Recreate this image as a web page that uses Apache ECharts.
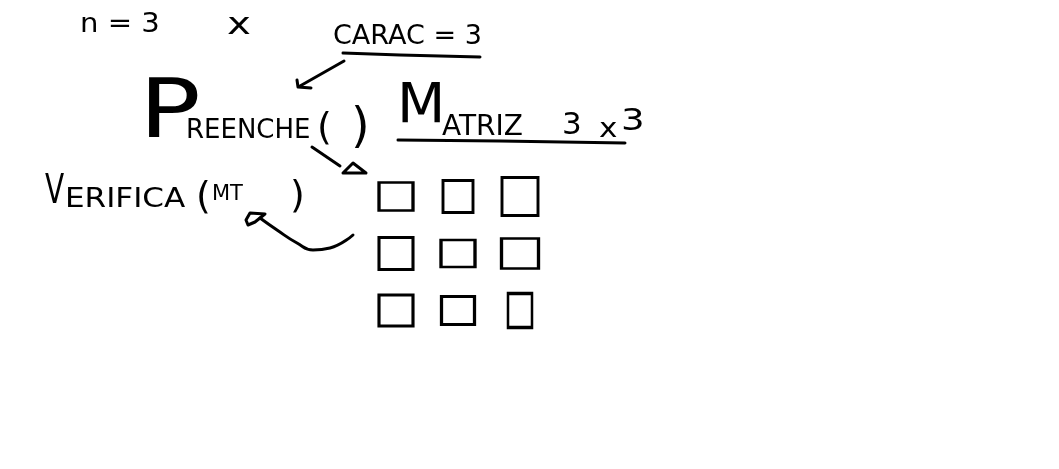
<!DOCTYPE html>
<html>
<head>
<meta charset="utf-8">
<title>Matriz 3x3</title>
<script src="https://cdn.jsdelivr.net/npm/echarts@6/dist/echarts.min.js"></script>
<style>
  html, body { margin: 0; padding: 0; background: #fff; }
  #main { width: 1059px; height: 469px; }
</style>
</head>
<body>
<div id="main"></div>
<script>
// matrix 3 x 3
const cols = ['0', '1', '2'];
const rows = ['0', '1', '2'];
const cells = [
  [0, 0], [1, 0], [2, 0],
  [0, 1], [1, 1], [2, 1],
  [0, 2], [1, 2], [2, 2]
];
// sketch strokes (drawing space 1059 x 469)
const strokes = {
  caracUnder: [[343, 53], [400, 55], [480, 57]],
  caracArrow: [[344, 61], [300, 86]],
  caracHead: [[297, 80], [298, 87], [311, 88]],
  matrizUnder: [[398, 140], [500, 141], [625, 143]],
  preencheLine: [[312, 147], [340, 166]],
  preencheHead: [[343, 173], [353, 163], [366, 173], [343, 173]],
  hook: [[265, 214], [250, 213], [246, 220], [248, 225], [255, 222], [265, 214]],
  verificaCurve: [[260, 218], [277, 230], [297, 243], [313, 250], [330, 248], [353, 235]]
};
const labels = ['n = 3', 'x', 'CARAC = 3', 'P', 'REENCHE', '(', ')', 'M', 'ATRIZ', '3', 'x', '3', 'V', 'ERIFICA', '(', 'MT', ')'];

const cellSize = [[34, 28], [30, 32], [36, 38], [34, 32], [34, 27], [37, 30], [34, 31], [33, 28], [24, 34]];

const chart = echarts.init(document.getElementById('main'));

const strokeSeries = Object.keys(strokes).map(function (k) {
  return {
    name: k,
    type: 'line',
    xAxisIndex: 0,
    yAxisIndex: 0,
    data: strokes[k],
    showSymbol: false,
    symbol: 'none',
    smooth: k === 'verificaCurve',
    lineStyle: { color: '#000', width: 3, cap: 'round', join: 'round' },
    silent: true,
    animation: false
  };
});

const font = '"DejaVu Sans", sans-serif';
function txt(i, x, y, size, sx) {
  return {
    type: 'text',
    x: x,
    y: y,
    scaleX: sx || 1,
    style: { text: labels[i], fill: '#000', font: size + 'px ' + font }
  };
}

chart.setOption({
  animation: false,
  grid: [
    { left: 0, right: 0, top: 0, bottom: 0 },
    { left: 365, width: 186, top: 168, height: 171 }
  ],
  xAxis: [
    { type: 'value', min: 0, max: 1059, show: false },
    { type: 'category', data: cols, gridIndex: 1, show: false }
  ],
  yAxis: [
    { type: 'value', min: 0, max: 469, inverse: true, show: false },
    { type: 'category', data: rows, gridIndex: 1, inverse: true, show: false }
  ],
  series: strokeSeries.concat([{
    name: 'matriz',
    type: 'scatter',
    xAxisIndex: 1,
    yAxisIndex: 1,
    data: cells.map(function (c, i) {
      return { value: c, symbolSize: cellSize[i] };
    }),
    symbol: 'rect',
    itemStyle: { color: '#fff', borderColor: '#000', borderWidth: 3, opacity: 1 },
    silent: true
  }]),
  graphic: [
    txt(0, 80, 12, 26, 1.12),
    txt(1, 227, 11, 30, 1.35),
    txt(2, 333, 23, 27),
    txt(3, 139, 75, 82, 1.25),
    txt(4, 186, 118, 26),
    txt(5, 317, 110, 38),
    txt(6, 351, 106, 48),
    txt(7, 397, 79, 56),
    txt(8, 442, 114, 28),
    txt(9, 562, 110, 31),
    txt(10, 599, 117, 26, 1.2),
    txt(11, 621, 106, 31, 1.2),
    txt(12, 45, 173, 40, 0.7),
    txt(13, 65, 186, 27, 1.15),
    txt(14, 196, 179, 38),
    txt(15, 212, 184, 21),
    txt(16, 290, 178, 38)
  ]
});
</script>
</body>
</html>
